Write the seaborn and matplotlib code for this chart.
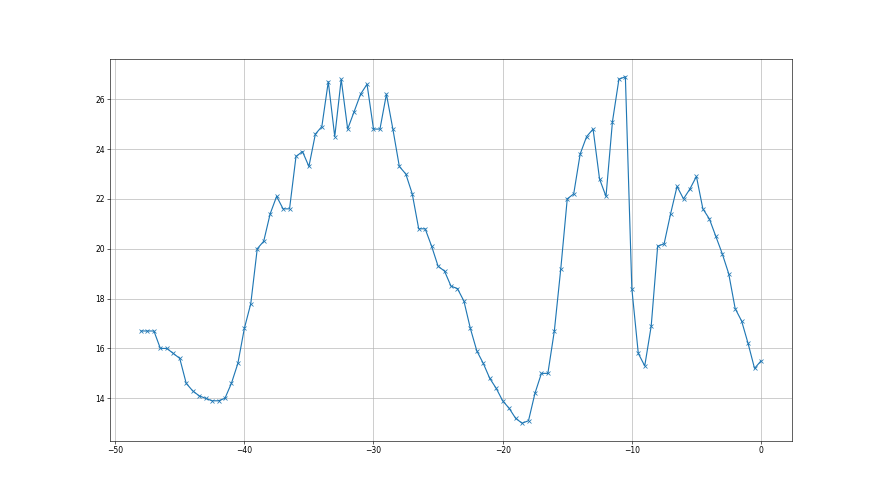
import matplotlib
matplotlib.use("Agg")
import matplotlib.pyplot as plt
import seaborn as sns
import pandas as pd

x_values = [-48.0, -47.5, -47.0, -46.5, -46.0, -45.5, -45.0, -44.5, -44.0, -43.5,
            -43.0, -42.5, -42.0, -41.5, -41.0, -40.5, -40.0, -39.5, -39.0, -38.5,
            -38.0, -37.5, -37.0, -36.5, -36.0, -35.5, -35.0, -34.5, -34.0, -33.5,
            -33.0, -32.5, -32.0, -31.5, -31.0, -30.5, -30.0, -29.5, -29.0, -28.5,
            -28.0, -27.5, -27.0, -26.5, -26.0, -25.5, -25.0, -24.5, -24.0, -23.5,
            -23.0, -22.5, -22.0, -21.5, -21.0, -20.5, -20.0, -19.5, -19.0, -18.5,
            -18.0, -17.5, -17.0, -16.5, -16.0, -15.5, -15.0, -14.5, -14.0, -13.5,
            -13.0, -12.5, -12.0, -11.5, -11.0, -10.5, -10.0, -9.5, -9.0, -8.5,
            -8.0, -7.5, -7.0, -6.5, -6.0, -5.5, -5.0, -4.5, -4.0, -3.5,
            -3.0, -2.5, -2.0, -1.5, -1.0, -0.5, 0.0]

y_values = [16.7, 16.7, 16.7, 16.0, 16.0, 15.8, 15.6, 14.6, 14.3, 14.1,
            14.0, 13.9, 13.9, 14.0, 14.6, 15.4, 16.8, 17.8, 20.0, 20.3,
            21.4, 22.1, 21.6, 21.6, 23.7, 23.9, 23.3, 24.6, 24.9, 26.7,
            24.5, 26.8, 24.8, 25.5, 26.2, 26.6, 24.8, 24.8, 26.2, 24.8,
            23.3, 23.0, 22.2, 20.8, 20.8, 20.1, 19.3, 19.1, 18.5, 18.4,
            17.9, 16.8, 15.9, 15.4, 14.8, 14.4, 13.9, 13.6, 13.2, 13.0,
            13.1, 14.2, 15.0, 15.0, 16.7, 19.2, 22.0, 22.2, 23.8, 24.5,
            24.8, 22.8, 22.1, 25.1, 26.8, 26.9, 18.4, 15.8, 15.3, 16.9,
            20.1, 20.2, 21.4, 22.5, 22.0, 22.4, 22.9, 21.6, 21.2, 20.5,
            19.8, 19.0, 17.6, 17.1, 16.2, 15.2, 15.5]

df = pd.DataFrame({"x": x_values, "y": y_values})

fig, ax = plt.subplots(figsize=(16, 9), dpi=55)
sns.lineplot(data=df, x="x", y="y", marker="x", color="#1f77b4",
             linewidth=1.5, markersize=6, markeredgecolor="#1f77b4",
             markeredgewidth=1.0, ax=ax, estimator=None, sort=False)
ax.set_xlabel("")
ax.set_ylabel("")
ax.grid(True)
fig.savefig("out.png", dpi=55)
